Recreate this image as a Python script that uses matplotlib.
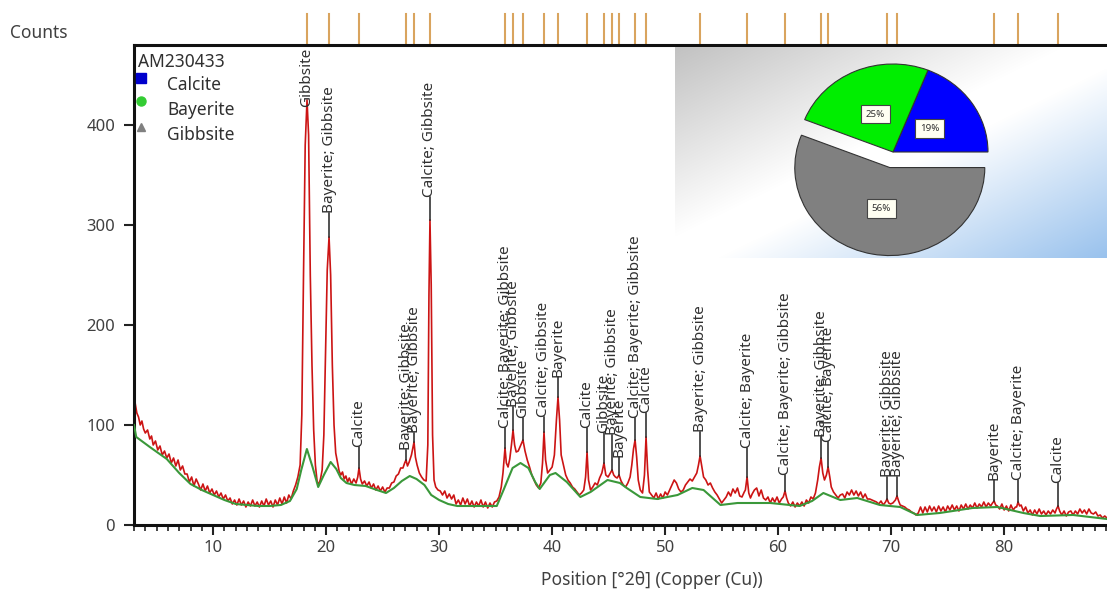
import numpy as np
import matplotlib
matplotlib.use('Agg')
import matplotlib.pyplot as plt
from matplotlib.ticker import MultipleLocator
from matplotlib.transforms import blended_transform_factory

plt.rcParams['font.family'] = ['Noto Sans', 'DejaVu Sans']

# ---------------- data ----------------
sample_name = 'AM230433'
phases = ['Calcite', 'Bayerite', 'Gibbsite']
phase_pct = [19, 25, 56]
phase_colors = ['#0000ff', '#00ee00', '#808080']
legend_marker_colors = ['#0000cc', '#33cc33', '#808080']
phase_markers = ['s', 'o', '^']

# background (green) curve
bg_two_theta = [3.0, 3.2, 4.4, 5.9, 7.0, 8.0, 9.0, 10.0, 11.0, 12.0, 13.0, 14.0, 15.0, 16.0,
                16.8, 17.4, 17.8, 18.3, 18.8, 19.3, 19.8, 20.4, 20.9, 21.3, 21.8, 22.5,
                23.5, 24.5, 25.3, 26.0, 26.7, 27.4, 28.0, 28.7, 29.3, 30.0, 30.8, 31.6,
                33.0, 34.5, 35.1, 35.7, 36.5, 37.2, 37.9, 38.5, 38.9, 39.8, 40.3, 41.3,
                42.5, 43.4, 44.9, 46.0, 46.6, 47.8, 49.3, 51.1, 52.4, 53.4, 54.9, 56.4,
                59.3, 61.9, 63.0, 64.0, 65.5, 67.0, 69.0, 70.8, 72.3, 74.3, 77.2, 79.4,
                81.7, 83.2, 86.1, 89.1]
bg_counts = [100, 88, 78, 66, 52, 41, 35, 30, 25, 21, 20, 19, 19, 20,
             24, 36, 55, 76, 58, 38, 50, 63, 56, 47, 42, 40,
             39, 35, 32, 37, 44, 49, 46, 40, 30, 25, 21, 19,
             19, 19, 19, 35, 57, 62, 57, 43, 36, 50, 52, 43,
             28, 33, 45, 42, 37, 28, 26, 30, 37, 35, 20, 22,
             22, 19, 24, 32, 25, 27, 20, 18, 10, 12, 17, 18,
             12, 9, 10, 6]

# observed (red) pattern, (2theta, counts)
observed = [
    (3.0, 128), (3.1, 122), (3.25, 112), (3.4, 108), (3.55, 100), (3.7, 104), (3.85, 96),
    (4.0, 92), (4.2, 95), (4.4, 86), (4.55, 89), (4.7, 80), (4.9, 84), (5.1, 75), (5.3, 79),
    (5.5, 70), (5.7, 74), (5.9, 67), (6.1, 71), (6.3, 62), (6.5, 67), (6.7, 59), (6.9, 65),
    (7.1, 55), (7.3, 59), (7.5, 51), (7.7, 51), (7.9, 43), (8.1, 48), (8.3, 39), (8.5, 46),
    (8.7, 41), (8.9, 35), (9.1, 41), (9.3, 34), (9.5, 39), (9.7, 32), (9.9, 36), (10.1, 30),
    (10.3, 34), (10.5, 28), (10.7, 32), (10.9, 26), (11.1, 30), (11.3, 24), (11.5, 27),
    (11.7, 21), (11.9, 25), (12.1, 20), (12.3, 26), (12.5, 20), (12.7, 24), (12.9, 18),
    (13.1, 23), (13.3, 19), (13.5, 25), (13.7, 19), (13.9, 23), (14.1, 18), (14.3, 24),
    (14.5, 19), (14.7, 26), (14.9, 20), (15.1, 24), (15.3, 18), (15.5, 25), (15.7, 20),
    (15.9, 27), (16.1, 21), (16.3, 28), (16.5, 22), (16.7, 30), (16.9, 26), (17.1, 34),
    (17.3, 40), (17.5, 48), (17.7, 60), (17.85, 110), (18.0, 250), (18.15, 380), (18.31, 425),
    (18.45, 390), (18.6, 250), (18.75, 160), (18.9, 95), (19.05, 60), (19.2, 44), (19.35, 40),
    (19.5, 46), (19.65, 55), (19.8, 90), (19.95, 170), (20.1, 255), (20.26, 288), (20.4, 250),
    (20.55, 160), (20.7, 100), (20.85, 72), (21.0, 63), (21.15, 54), (21.3, 50), (21.45, 53),
    (21.6, 46), (21.75, 49), (21.9, 43), (22.05, 47), (22.25, 41), (22.45, 46), (22.65, 42),
    (22.8, 48), (22.91, 57), (23.05, 46), (23.2, 41), (23.4, 44), (23.6, 39), (23.8, 43),
    (24.0, 37), (24.2, 41), (24.4, 35), (24.6, 39), (24.8, 34), (25.0, 38), (25.2, 33),
    (25.4, 37), (25.6, 37), (25.8, 42), (26.0, 43), (26.2, 49), (26.4, 51), (26.6, 57),
    (26.8, 57), (26.95, 62), (27.07, 65), (27.2, 59), (27.35, 63), (27.55, 70), (27.78, 83),
    (27.9, 68), (28.05, 60), (28.25, 52), (28.45, 48), (28.65, 45), (28.85, 44), (29.0, 80),
    (29.1, 230), (29.19, 305), (29.3, 240), (29.42, 90), (29.55, 45), (29.7, 38), (29.9, 35),
    (30.1, 34), (30.3, 30), (30.5, 34), (30.7, 27), (30.9, 31), (31.1, 26), (31.3, 30),
    (31.5, 21), (31.7, 25), (31.9, 20), (32.1, 27), (32.3, 21), (32.5, 26), (32.7, 19),
    (32.9, 24), (33.1, 18), (33.3, 23), (33.5, 19), (33.7, 25), (33.9, 18), (34.1, 23),
    (34.3, 17), (34.5, 22), (34.7, 18), (34.9, 23), (35.1, 24), (35.3, 28), (35.5, 38),
    (35.65, 52), (35.83, 77), (35.95, 62), (36.1, 58), (36.25, 66), (36.4, 80), (36.54, 95),
    (36.68, 80), (36.82, 73), (37.0, 74), (37.15, 78), (37.3, 82), (37.42, 85), (37.6, 74),
    (37.8, 65), (38.0, 58), (38.2, 50), (38.4, 45), (38.6, 40), (38.8, 37), (39.0, 42),
    (39.15, 62), (39.28, 93), (39.42, 65), (39.6, 52), (39.8, 55), (40.0, 58), (40.2, 70),
    (40.38, 105), (40.52, 128), (40.66, 105), (40.8, 70), (41.0, 60), (41.2, 50), (41.4, 45),
    (41.6, 42), (41.8, 38), (42.0, 36), (42.2, 33), (42.4, 30), (42.6, 32), (42.8, 35),
    (42.96, 48), (43.09, 73), (43.22, 45), (43.4, 35), (43.6, 38), (43.8, 42), (44.0, 40),
    (44.2, 47), (44.4, 52), (44.59, 62), (44.75, 50), (44.95, 48), (45.15, 52), (45.3, 55),
    (45.45, 50), (45.6, 48), (45.75, 47), (45.92, 50), (46.1, 44), (46.3, 40), (46.5, 38),
    (46.7, 42), (46.9, 48), (47.05, 60), (47.2, 76), (47.34, 85), (47.48, 68), (47.62, 45),
    (47.8, 35), (48.0, 32), (48.17, 50), (48.31, 88), (48.45, 55), (48.6, 33), (48.8, 30),
    (49.0, 27), (49.2, 32), (49.4, 26), (49.6, 31), (49.8, 27), (50.0, 33), (50.2, 30),
    (50.4, 35), (50.6, 40), (50.8, 45), (51.0, 42), (51.2, 36), (51.4, 33), (51.6, 35),
    (51.8, 40), (52.0, 43), (52.2, 46), (52.4, 44), (52.6, 48), (52.8, 52), (52.95, 60),
    (53.09, 69), (53.25, 58), (53.4, 48), (53.6, 45), (53.8, 40), (54.0, 42), (54.2, 37),
    (54.4, 33), (54.6, 30), (54.8, 26), (55.0, 22), (55.2, 25), (55.4, 28), (55.6, 33),
    (55.8, 29), (56.0, 36), (56.2, 32), (56.4, 37), (56.6, 29), (56.8, 28), (57.0, 33),
    (57.1, 35), (57.25, 48), (57.4, 32), (57.55, 27), (57.7, 31), (57.9, 35), (58.1, 37),
    (58.3, 29), (58.5, 35), (58.7, 27), (58.9, 25), (59.1, 28), (59.3, 22), (59.5, 27),
    (59.7, 23), (59.9, 28), (60.1, 22), (60.3, 26), (60.45, 28), (60.61, 34), (60.75, 27),
    (60.9, 22), (61.1, 19), (61.3, 23), (61.5, 18), (61.7, 22), (61.9, 19), (62.1, 23),
    (62.3, 19), (62.5, 25), (62.7, 22), (62.9, 28), (63.1, 26), (63.3, 32), (63.5, 45),
    (63.65, 58), (63.8, 67), (63.95, 52), (64.1, 45), (64.27, 50), (64.42, 58), (64.57, 48),
    (64.7, 38), (64.9, 33), (65.1, 30), (65.3, 27), (65.5, 30), (65.7, 31), (65.9, 27),
    (66.1, 33), (66.3, 30), (66.5, 35), (66.7, 30), (66.9, 34), (67.1, 29), (67.3, 33),
    (67.5, 27), (67.7, 31), (67.9, 26), (68.1, 26), (68.3, 25), (68.5, 24), (68.7, 23),
    (68.9, 21), (69.1, 24), (69.3, 20), (69.5, 23), (69.64, 26), (69.78, 22), (69.95, 21),
    (70.15, 22), (70.38, 25), (70.52, 29), (70.66, 24), (70.8, 20), (71.0, 19), (71.2, 18),
    (71.4, 16), (71.6, 15), (71.8, 13), (72.0, 12), (72.2, 10), (72.4, 12), (72.6, 18),
    (72.8, 12), (73.0, 18), (73.2, 13), (73.4, 19), (73.6, 14), (73.8, 18), (74.0, 13),
    (74.2, 19), (74.4, 14), (74.6, 18), (74.8, 13), (75.0, 19), (75.2, 15), (75.4, 20),
    (75.6, 15), (75.8, 19), (76.0, 14), (76.2, 20), (76.4, 16), (76.6, 21), (76.8, 16),
    (77.0, 20), (77.2, 17), (77.4, 22), (77.6, 17), (77.8, 21), (78.0, 18), (78.2, 23),
    (78.4, 18), (78.6, 22), (78.8, 19), (78.97, 22), (79.11, 24), (79.25, 20), (79.4, 19),
    (79.6, 16), (79.8, 21), (80.0, 15), (80.2, 19), (80.4, 14), (80.6, 20), (80.8, 15),
    (81.0, 18), (81.1, 18), (81.23, 23), (81.37, 19), (81.5, 20), (81.7, 14), (81.9, 18),
    (82.1, 12), (82.3, 15), (82.5, 10), (82.7, 15), (82.9, 11), (83.1, 16), (83.3, 11),
    (83.5, 14), (83.7, 10), (83.9, 14), (84.1, 11), (84.3, 15), (84.5, 12), (84.63, 16),
    (84.77, 19), (84.91, 14), (85.1, 10), (85.3, 14), (85.5, 9), (85.7, 13), (85.9, 14),
    (86.1, 10), (86.3, 14), (86.5, 11), (86.7, 16), (86.9, 12), (87.1, 15), (87.3, 11),
    (87.5, 16), (87.7, 12), (87.9, 11), (88.1, 13), (88.3, 9), (88.5, 10), (88.7, 7),
    (88.9, 9), (89.1, 7),
]
obs_two_theta = [p[0] for p in observed]
obs_counts = [p[1] for p in observed]

# identified peaks
peak_pos = [18.31, 20.26, 22.91, 27.07, 27.78, 29.19, 35.83, 36.54, 37.42, 39.28, 40.52,
            43.09, 44.59, 45.30, 45.92, 47.34, 48.31, 53.09, 57.25, 60.61, 63.80, 64.42,
            69.64, 70.52, 79.11, 81.23, 84.77]
peak_text = ['Gibbsite', 'Bayerite; Gibbsite', 'Calcite', 'Bayerite; Gibbsite',
             'Bayerite; Gibbsite', 'Calcite; Gibbsite', 'Calcite; Bayerite; Gibbsite',
             'Bayerite; Gibbsite', 'Gibbsite', 'Calcite; Gibbsite', 'Bayerite', 'Calcite',
             'Gibbsite', 'Bayerite; Gibbsite', 'Bayerite', 'Calcite; Bayerite; Gibbsite',
             'Calcite', 'Bayerite; Gibbsite', 'Calcite; Bayerite', 'Calcite; Bayerite; Gibbsite',
             'Bayerite; Gibbsite', 'Calcite; Bayerite', 'Bayerite; Gibbsite',
             'Bayerite; Gibbsite', 'Bayerite', 'Calcite; Bayerite', 'Calcite']
peak_apex = [425, 288, 57, 65, 83, 305, 77, 95, 85, 93, 128, 73, 62, 55, 50, 85, 88,
             69, 48, 34, 67, 58, 26, 29, 24, 23, 19]
label_base = [418, 312, 78, 75, 92, 328, 97, 118, 107, 108, 148, 97, 92, 90, 68, 107, 112,
              93, 77, 50, 88, 83, 48, 48, 45, 45, 42]

x_ticks = [10, 20, 30, 40, 50, 60, 70, 80]
y_ticks = [0, 100, 200, 300, 400]

# ---------------- figure ----------------
W, H = 1107, 590
fig = plt.figure(figsize=(W / 100, H / 100), dpi=100)
fig.patch.set_facecolor('white')
ax = fig.add_axes([134 / W, 65 / H, 973 / W, 480 / H])

ax.plot(obs_two_theta, obs_counts, color='#cc1414', lw=1.2, zorder=2)
ax.plot(bg_two_theta, bg_counts, color='#3a983a', lw=1.5, zorder=3)
ax.set_xlim(3.0, 89.1)
ax.set_ylim(0, 480)

ax.set_xticks(x_ticks)
ax.set_yticks(y_ticks)
ax.xaxis.set_minor_locator(MultipleLocator(1))
ax.tick_params(axis='both', which='major', direction='out', length=7.5, width=1.5,
               color='#222222', labelsize=12, labelcolor='#404040')
ax.tick_params(axis='x', which='minor', direction='out', length=4.5, width=1.2, color='#222222')
ax.tick_params(axis='x', pad=3)
ax.tick_params(axis='y', pad=6)
for side in ['left', 'bottom', 'top']:
    ax.spines[side].set_linewidth(2.2)
    ax.spines[side].set_color('#111111')
ax.spines['right'].set_visible(False)

# reference sticks above the plot
trans = blended_transform_factory(ax.transData, ax.transAxes)
for p in peak_pos:
    ax.plot([p, p], [1.0, 1.0 + 31 / 480], transform=trans, color='#d9a45e', lw=1.5,
            clip_on=False, zorder=1)

# peak labels
for p, t, a, b in zip(peak_pos, peak_text, peak_apex, label_base):
    if b > a:
        ax.plot([p, p], [a, b], color='#222222', lw=1.1, zorder=4)
    ax.text(p, b, t, rotation=90, ha='center', va='bottom', fontsize=11,
            color='#303030', clip_on=False, zorder=5)

# legend-like block
ax.text(0.004, 0.965, sample_name, transform=ax.transAxes, ha='left', va='center',
        fontsize=12.5, color='#303030')
leg_y_marker = [0.931, 0.883, 0.829]
leg_y_text = [0.917, 0.865, 0.8125]
for name, mcol, mk, ym, yt in zip(phases, legend_marker_colors, phase_markers,
                                  leg_y_marker, leg_y_text):
    ax.plot([0.0072], [ym], marker=mk, color=mcol, markersize=6.5 if mk != '^' else 5.5,
            linestyle='none', transform=ax.transAxes, clip_on=False, zorder=6)
    ax.text(0.0339, yt, name, transform=ax.transAxes, ha='left', va='center',
            fontsize=12.5, color='#303030')

fig.text(10 / W, (H - 33) / H, 'Counts', ha='left', va='center', fontsize=12.5, color='#404040')
fig.text(652 / W, 10 / H, 'Position [°2θ] (Copper (Cu))', ha='center', va='center',
         fontsize=12.5, color='#404040')

# ---------------- inset with pie ----------------
ins = fig.add_axes([675 / W, (H - 258) / H, 432 / W, 211 / H], zorder=5)
ins.axis('off')
u = np.linspace(0, 1, 432)[None, :]
v = np.linspace(0, 1, 211)[:, None]
s = 0.5 * (u + v)
gray = np.array([0.76, 0.76, 0.76])
white = np.array([1.0, 1.0, 1.0])
blue = np.array([0.60, 0.76, 0.93])
t1 = np.clip(s / 0.45, 0, 1)[..., None]
t2 = np.clip((s - 0.55) / 0.45, 0, 1)[..., None]
img = gray * (1 - t1) + white * t1
img = img * (1 - t2) + blue * t2
ins.imshow(img, extent=(0, 432, 0, 211), aspect='auto', origin='upper')
ins.set_xlim(0, 432)
ins.set_ylim(0, 211)

rx, ry = 95, 88
cx, cy = 893, H - 152
pax = fig.add_axes([(cx - 1.3 * rx) / W, (cy - 1.3 * ry) / H, 2.6 * rx / W, 2.6 * ry / H], zorder=6)
pax.patch.set_alpha(0)
wedges, texts, autotexts = pax.pie(
    phase_pct, colors=phase_colors, startangle=0, counterclock=True,
    explode=[0, 0, 0.18], autopct=lambda p: f'{p:.0f}%', pctdistance=0.47,
    wedgeprops=dict(edgecolor='#333333', linewidth=0.8),
    textprops=dict(fontsize=7, color='#333333'), frame=True)
for at in autotexts:
    at.set_bbox(dict(boxstyle='square,pad=0.5', fc='#fffff2', ec='#444444', lw=0.8))
pax.set_aspect('auto')
pax.set_xlim(-1.3, 1.3)
pax.set_ylim(-1.3, 1.3)
pax.axis('off')

fig.savefig('out.png', dpi=100)
